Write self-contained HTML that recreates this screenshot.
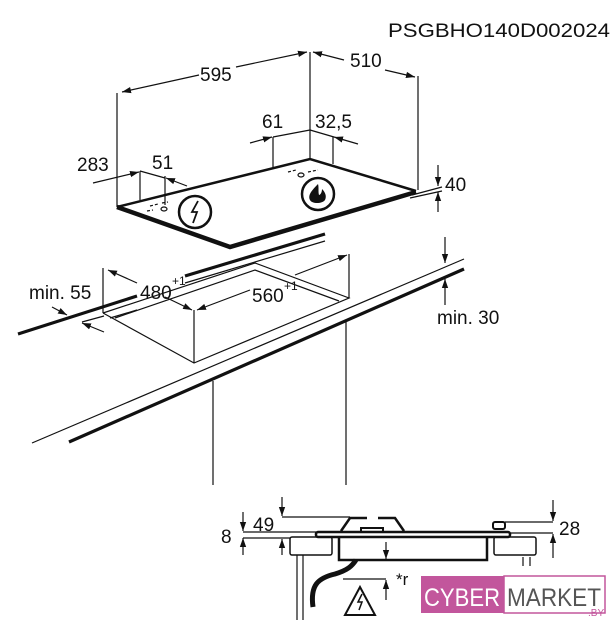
<!DOCTYPE html>
<html><head><meta charset="utf-8"><style>
html,body{margin:0;padding:0;background:#fff;width:616px;height:640px;overflow:hidden}
svg{display:block}
text{font-family:"Liberation Sans",Arial,sans-serif;fill:#111}
</style></head><body>
<svg width="616" height="640" viewBox="0 0 616 640" xmlns="http://www.w3.org/2000/svg">
<defs>
<marker id="a" viewBox="0 0 10 10" refX="10" refY="5" markerWidth="9" markerHeight="9" orient="auto-start-reverse" markerUnits="userSpaceOnUse"><path d="M0,1.5 L10,5 L0,8.5 z" fill="#111"/></marker>
</defs>
<text x="388" y="37" font-size="19" textLength="222" lengthAdjust="spacingAndGlyphs">PSGBHO140D002024</text>
<g stroke="#111" fill="none" stroke-width="1.2">
<!-- hob -->
<path d="M117,207 L230,247 L416,192" stroke-width="4.5"/>
<path d="M117,207 L310,159 L416,191" stroke-width="2.5"/>
<line x1="117" y1="207" x2="117" y2="93"/>
<line x1="310" y1="159" x2="310" y2="52"/>
<line x1="418" y1="190" x2="418" y2="76"/>
<line x1="122" y1="92" x2="199" y2="75" marker-start="url(#a)"/>
<line x1="236" y1="67" x2="307" y2="52" marker-end="url(#a)"/>
<line x1="313" y1="52" x2="344" y2="60" marker-start="url(#a)"/>
<line x1="385" y1="70" x2="415" y2="77" marker-end="url(#a)"/>
<line x1="273" y1="167" x2="273" y2="137"/>
<line x1="333" y1="164" x2="333" y2="137"/>
<line x1="250" y1="143" x2="272" y2="137" marker-end="url(#a)"/>
<line x1="273" y1="137" x2="310" y2="130"/>
<line x1="310" y1="130" x2="334" y2="137"/>
<line x1="358" y1="144" x2="334" y2="137" marker-end="url(#a)"/>
<line x1="140" y1="200" x2="140" y2="171"/>
<line x1="165" y1="205" x2="165" y2="176"/>
<line x1="93" y1="183" x2="139" y2="172" marker-end="url(#a)"/>
<line x1="140" y1="171" x2="165" y2="178"/>
<line x1="187" y1="186" x2="166" y2="178" marker-end="url(#a)"/>
<line x1="438" y1="165" x2="438" y2="186" marker-end="url(#a)"/>
<line x1="438" y1="212" x2="438" y2="192" marker-end="url(#a)"/>
<line x1="412" y1="195" x2="442" y2="187"/>
<line x1="410" y1="198" x2="442" y2="191"/>
<path d="M150,206 l8,-2 M162,203 l6,-1 M147,211 l6,-1" stroke-dasharray="3 2"/>
<ellipse cx="164" cy="209" rx="3" ry="2"/>
<ellipse cx="301" cy="175" rx="3" ry="2"/>
<path d="M288,172 l8,-2 M308,172 l10,-2" stroke-dasharray="3 2"/>
<circle cx="195" cy="212" r="16" stroke-width="2.5"/>
<path d="M198,201 l-6,11 h5 l-4,11" stroke-width="1.8"/>
<circle cx="318" cy="194" r="16" stroke-width="2.5"/>
</g>
<path d="M318,184 c-8,8 -10,12 -8,16 c2,4 12,4 15,0 c2,-4 0,-8 -3,-11 c0,4 -2,6 -3,6 c-1,-3 0,-8 -1,-11z" fill="#111"/>
<text x="200" y="81" font-size="19">595</text>
<text x="350" y="67" font-size="19">510</text>
<text x="262" y="128" font-size="19">61</text>
<text x="315" y="128" font-size="19">32,5</text>
<text x="77" y="171" font-size="19">283</text>
<text x="152" y="169" font-size="19">51</text>
<text x="445" y="191" font-size="19">40</text>
<g stroke="#111" fill="none" stroke-width="1.2">
<line x1="185" y1="276" x2="325" y2="234" stroke-width="3.2"/>
<line x1="185" y1="283" x2="325" y2="241"/>
<line x1="18" y1="334" x2="137" y2="296" stroke-width="3.2"/>
<line x1="110" y1="318" x2="137" y2="310"/>
<line x1="82" y1="322" x2="104" y2="316"/>
<line x1="32" y1="443" x2="464" y2="259"/>
<line x1="69" y1="442" x2="464" y2="269" stroke-width="3.2"/>
<path d="M103,313 L194,363 L349,298 L255,263 L103,313"/>
<path d="M115,318 L255,270 L339,301"/>
<line x1="103" y1="268" x2="103" y2="313"/>
<line x1="194" y1="310" x2="194" y2="363"/>
<line x1="349" y1="254" x2="349" y2="298"/>
<line x1="108" y1="270" x2="137" y2="283" marker-start="url(#a)"/>
<line x1="165" y1="297" x2="192" y2="310" marker-end="url(#a)"/>
<line x1="197" y1="310" x2="250" y2="290" marker-start="url(#a)"/>
<line x1="295" y1="275" x2="347" y2="255" marker-end="url(#a)"/>
<line x1="52" y1="307" x2="67" y2="315" marker-end="url(#a)"/>
<line x1="104" y1="332" x2="82" y2="323" marker-end="url(#a)"/>
<line x1="445" y1="237" x2="445" y2="263" marker-end="url(#a)"/>
<line x1="445" y1="305" x2="445" y2="279" marker-end="url(#a)"/>
<line x1="213" y1="381" x2="213" y2="485"/>
<line x1="346" y1="322" x2="346" y2="485"/>
</g>
<text x="29" y="299" font-size="19">min. 55</text>
<text x="140" y="299" font-size="19">480</text><text x="172" y="285" font-size="12">+1</text>
<text x="252" y="302" font-size="19">560</text><text x="284" y="290" font-size="12">+1</text>
<text x="437" y="324" font-size="19">min. 30</text>
<g stroke="#111" fill="none" stroke-width="1.2">
<rect x="316" y="532" width="194" height="5" rx="2" stroke-width="2.5"/>
<rect x="290" y="537" width="42" height="18" rx="2" stroke-width="1.5"/>
<rect x="494" y="537" width="42" height="18" rx="2" stroke-width="1.5"/>
<path d="M339,538 V560 H487 V538" stroke-width="2.5"/>
<path d="M341,531 L350,518 H367 M378,518 H395 L404,531" stroke-width="2.5"/>
<rect x="361" y="528" width="22" height="4" stroke-width="2"/>
<rect x="493" y="522" width="12" height="7" rx="2" stroke-width="2"/>
<line x1="297" y1="555" x2="297" y2="620"/><line x1="303" y1="555" x2="303" y2="620"/>
<line x1="523" y1="557" x2="523" y2="566"/><line x1="530" y1="557" x2="530" y2="566"/>
<line x1="282" y1="497" x2="282" y2="516" marker-end="url(#a)"/>
<line x1="282" y1="517" x2="350" y2="517"/>
<line x1="282" y1="555" x2="282" y2="539" marker-end="url(#a)"/>
<line x1="243" y1="512" x2="243" y2="531" marker-end="url(#a)"/>
<line x1="243" y1="555" x2="243" y2="538" marker-end="url(#a)"/>
<line x1="243" y1="532" x2="316" y2="532"/>
<line x1="243" y1="538" x2="290" y2="538"/>
<line x1="553" y1="500" x2="553" y2="521" marker-end="url(#a)"/>
<line x1="505" y1="522" x2="553" y2="522"/>
<line x1="510" y1="533" x2="553" y2="533"/>
<line x1="553" y1="558" x2="553" y2="534" marker-end="url(#a)"/>
<line x1="386" y1="542" x2="386" y2="559" marker-end="url(#a)"/>
<line x1="386" y1="600" x2="386" y2="580" marker-end="url(#a)"/>
<line x1="343" y1="579" x2="386" y2="579"/>
<path d="M313,607 C310,585 318,578 335,574 C348,570 352,566 356,560" stroke-width="5"/>
<path d="M345,615 L360,587 L375,615 Z" stroke-width="2"/>
<path d="M362,594 l-4,8 h4 l-3,8" stroke-width="1.5"/>
</g>
<text x="221" y="543" font-size="19">8</text>
<text x="253" y="531" font-size="19">49</text>
<text x="559" y="535" font-size="19">28</text>
<text x="396" y="585" font-size="17">*r</text>
<rect x="421" y="576" width="83" height="37" fill="#c2569c"/>
<rect x="504" y="576" width="101" height="37" fill="#fff" stroke="#c2569c" stroke-width="1.5"/>
<text x="424" y="606" font-size="25" textLength="76" lengthAdjust="spacingAndGlyphs" style="fill:#fff">CYBER</text>
<text x="507" y="606" font-size="25" textLength="94" lengthAdjust="spacingAndGlyphs" style="fill:#555">MARKET</text>
<text x="588" y="616" font-size="10" style="fill:#c2569c">.BY</text>
</svg>
</body></html>
